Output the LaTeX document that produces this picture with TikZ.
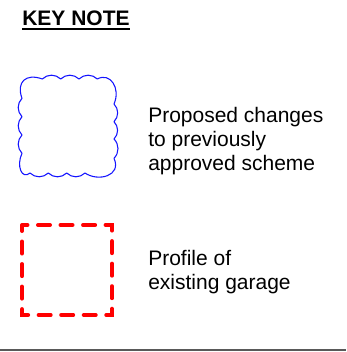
\documentclass[tikz,border=0pt]{standalone}
\usepackage{fontspec}
\setmainfont{Liberation Sans}
\usepackage{xcolor}
\usepackage{tikz}
\usetikzlibrary{positioning}
\definecolor{cloudblue}{RGB}{20,20,255}
\definecolor{garagered}{RGB}{255,0,0}
\tikzstyle{keytext} = [anchor=base west, inner sep=0pt, align=left, font=\fontsize{15.75}{18}\selectfont]
\tikzstyle{cloudline} = [cloudblue, line width=0.8pt, line join=round]
\tikzstyle{garageline} = [garagered, line width=3pt, line cap=round, dash pattern=on 9pt off 7.9pt, dash phase=4.5pt]

\begin{document}
\begin{tikzpicture}[x=0.75pt, y=-0.75pt]
    \useasboundingbox (0,0) rectangle (346,352);

    % heading
    \node[keytext, font=\bfseries\fontsize{15.75}{18}\selectfont] (keynote) at (22,25.7) {KEY NOTE};
    \draw[line width=1.5pt] ([yshift=-2.5pt]keynote.base west) -- ([yshift=-2.5pt]keynote.base east);

    % revision cloud
    \draw[cloudline] (22,98.3) .. controls (16,82) and (26,73) .. (42.3,79)
        foreach \x in {60.7,79,97.3} { to[bend left=45] (\x,79) }
        .. controls (110,72) and (121,88) .. (114,104)
        foreach \y in {121.7,139,158.3} { to[bend left=45] (114,\y) }
        .. controls (122,176) and (98,182) .. (85,173)
        foreach \x in {66.7,48.3,30} { to[bend left=45] (\x,173) }
        .. controls (22,180) and (16,166) .. (22,153.3)
        foreach \y in {135,116.7,98.3} { to[bend left=45] (22,\y) };
    % base anchor sits on the last line
    \node[keytext] (cloudnote) at (148,171) {Proposed changes\\to previously\\approved scheme};

    % existing garage
    \draw[garageline] (22,225) rectangle (112,315);
    \node[keytext] (garagenote) at (148,289.3) {Profile of\\existing garage};

    \draw[black!65, line width=1.5pt] (0,350) -- (346,350);
\end{tikzpicture}
\end{document}
